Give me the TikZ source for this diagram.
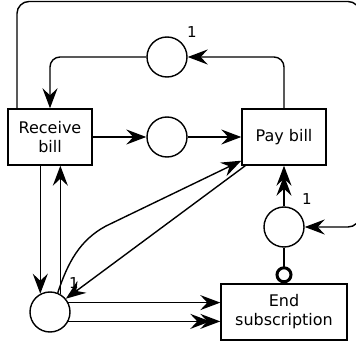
\documentclass[tikz,border=0pt]{standalone}
\usepackage{fontspec}
\setmainfont{DejaVu Sans}
\usetikzlibrary{arrows.meta}
\begin{document}
\begin{tikzpicture}[x=1pt, y=-1pt, line width=1.4pt,
  place/.style={circle, draw, minimum size=40pt, inner sep=0pt},
  trans/.style={rectangle, draw, minimum width=84pt, minimum height=56pt,
    align=center, inner sep=2pt, font=\fontsize{16}{19}\selectfont},
  wlabel/.style={inner sep=0pt, font=\fontsize{15}{17}\selectfont},
  arr/.style={-{Stealth[length=20pt, width=15pt, inset=7pt]}},
  darr/.style={-{Stealth[length=20pt, width=15pt, inset=7pt, sep=-10pt]Stealth[length=20pt, width=15pt, inset=7pt]}},
  inhib/.style={-{Circle[open, length=17pt, width=17pt, line width=3pt]}}]
  \useasboundingbox[fill=white] (0,0) rectangle (356,342);
  \clip (0,0) rectangle (356,342);

  % transitions
  \node[trans] (rb) at (50,137) {Receive\\bill};
  \node[trans] (pb) at (284,137) {Pay bill};
  \node[trans, minimum width=126pt] (es) at (284,312) {End\\subscription};

  % places
  \node[place] (pTop) at (167,57) {};
  \node[place] (pMid) at (167,137) {};
  \node[place] (pRight) at (284,227) {};
  \node[place] (pLeft) at (50,312) {};

  % weights
  \node[wlabel] (wTop) at (192,32) {1};
  \node[wlabel] (wRight) at (307,199) {1};
  \node[wlabel] (wLeft) at (74,283) {1};

  % outer loop corner point
  \coordinate (oTR) at (360,1.5);

  % connectors
  \draw[arr, rounded corners=10pt] (pb.north) |- (pTop.east);
  \draw[arr, rounded corners=10pt] (pTop.west) -| (rb.north);
  \draw[arr, rounded corners=12pt] ([xshift=-33pt]rb.north) |- (oTR) |- (pRight.east);
  \draw[arr] (rb.east) -- (pMid.west);
  \draw[arr] (pMid.east) -- (pb.west);
  \draw[darr] (pRight.north) -- (pb.south);
  \draw[inhib] (pRight.south) -- (es.north);
  \draw[arr] (rb.south -| pLeft.118) -- (pLeft.118);
  \draw[arr] (pLeft.60) -- (pLeft.60 |- rb.south);
  \draw[arr] ([xshift=4pt]pb.south west) -- (pLeft.40);
  \draw[arr] (pLeft.68) .. controls (68,262) and (80,240) .. (106,226) -- ([yshift=5pt]pb.south west);
  \draw[arr] (pLeft.27) -- (pLeft.27 -| es.west);
  \draw[darr] (pLeft.-27) -- (pLeft.-27 -| es.west);
\end{tikzpicture}
\end{document}
